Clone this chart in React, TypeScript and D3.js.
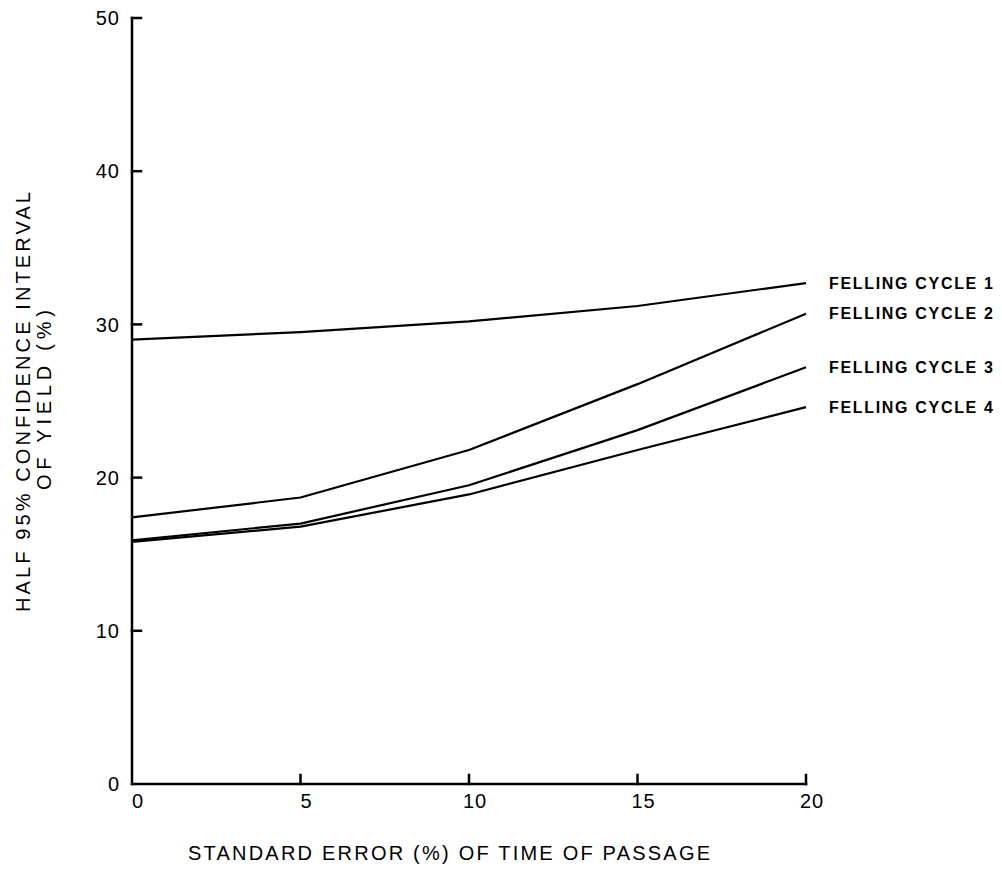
import React from "react";
import * as d3 from "d3";

// Standard error of time of passage (%)
const errorLevels = [0, 5, 10, 15, 20];

// Half 95% confidence interval of yield (%) for each felling cycle
const cycle1 = [29.0, 29.5, 30.2, 31.2, 32.7];
const cycle2 = [17.4, 18.7, 21.8, 26.1, 30.7];
const cycle3 = [15.9, 17.0, 19.5, 23.1, 27.2];
const cycle4 = [15.8, 16.8, 18.9, 21.8, 24.6];

const seriesNames = ["FELLING CYCLE 1", "FELLING CYCLE 2", "FELLING CYCLE 3", "FELLING CYCLE 4"];
const seriesValues = [cycle1, cycle2, cycle3, cycle4];

const xTicks = [0, 5, 10, 15, 20];
const yTicks = [0, 10, 20, 30, 40, 50];

const xTitle = "STANDARD ERROR (%) OF TIME OF PASSAGE";
const yTitleLines = ["HALF 95% CONFIDENCE INTERVAL", "OF YIELD (%)"];

const W = 1002;
const H = 870;
const FONT = "'Liberation Sans', Arial, sans-serif";

export default function App() {
  const x = d3.scaleLinear().domain([0, 20]).range([132, 806]);
  const y = d3.scaleLinear().domain([0, 50]).range([784, 18]);

  const line = d3
    .line<number>()
    .x((_, i) => x(errorLevels[i]))
    .y((d) => y(d))
    .curve(d3.curveLinear);

  const x0 = x(0);
  const y0 = y(0);
  const tick = 9;

  return (
    <svg
      width={W}
      height={H}
      viewBox={`0 0 ${W} ${H}`}
      style={{ position: "absolute", left: 0, top: 0, background: "#fff" }}
    >
      <rect width={W} height={H} fill="#fff" />

      {/* axes */}
      <g stroke="#000" strokeWidth={2.5} fill="none" strokeLinecap="square">
        <line x1={x0} y1={y0} x2={x0} y2={y(50)} />
        <line x1={x0} y1={y0} x2={x(20)} y2={y0} />
        {yTicks.filter((t) => t > 0).map((t) => (
          <line key={"yt" + t} x1={x0} x2={x0 + tick} y1={y(t)} y2={y(t)} />
        ))}
        {xTicks.filter((t) => t > 0).map((t) => (
          <line key={"xt" + t} x1={x(t)} x2={x(t)} y1={y0} y2={y0 - tick} />
        ))}
      </g>

      {/* tick labels */}
      <g fontFamily={FONT} fontSize={20} fill="#000">
        {yTicks.map((t) => (
          <text key={"yl" + t} x={x0 - 12} y={y(t)} dy="0.36em" textAnchor="end" letterSpacing={1}>
            {t}
          </text>
        ))}
        {xTicks.map((t) => (
          <text key={"xl" + t} x={x(t) + 6} y={y0 + 24} textAnchor="middle" letterSpacing={1}>
            {t}
          </text>
        ))}
      </g>

      {/* series */}
      <g stroke="#000" strokeWidth={2.2} fill="none" strokeLinejoin="round">
        {seriesValues.map((vals, i) => (
          <path key={"s" + i} d={line(vals) || ""} />
        ))}
      </g>

      {/* series labels */}
      <g fontFamily={FONT} fontSize={16} fontWeight="bold" fill="#000">
        {seriesValues.map((vals, i) => (
          <text
            key={"sl" + i}
            x={829}
            y={y(vals[vals.length - 1])}
            dy="0.36em"
            textLength={164}
            lengthAdjust="spacing"
          >
            {seriesNames[i]}
          </text>
        ))}
      </g>

      {/* axis titles */}
      <g fontFamily={FONT} fontSize={20} fill="#000">
        <text x={449} y={860} textAnchor="middle" textLength={522} lengthAdjust="spacing">
          {xTitle}
        </text>
        <text
          transform="translate(30,402) rotate(-90)"
          textAnchor="middle"
          textLength={420}
          lengthAdjust="spacing"
        >
          {yTitleLines[0]}
        </text>
        <text
          transform="translate(51,400) rotate(-90)"
          textAnchor="middle"
          textLength={180}
          lengthAdjust="spacing"
        >
          {yTitleLines[1]}
        </text>
      </g>
    </svg>
  );
}
